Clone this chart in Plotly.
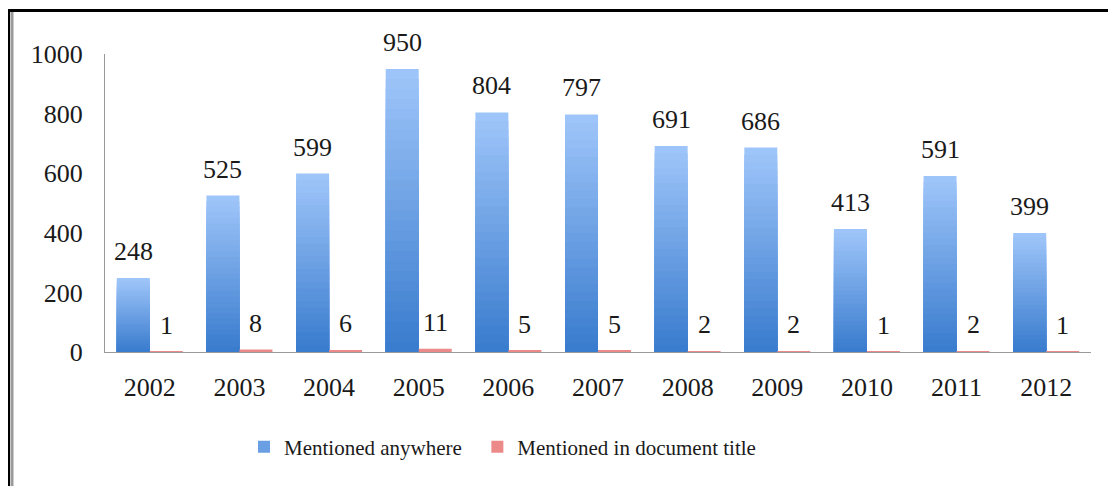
import plotly.graph_objects as go

years = ["2002", "2003", "2004", "2005", "2006", "2007", "2008", "2009", "2010", "2011", "2012"]
anywhere = [248, 525, 599, 950, 804, 797, 691, 686, 413, 591, 399]
in_title = [1, 8, 6, 11, 5, 5, 2, 2, 1, 2, 1]
y_ticks = [0, 200, 400, 600, 800, 1000]

FONT = "Liberation Serif"
FS = 26
LFS = 21
BW = 0.368

OFF = 8  # page body margin
W, H = 1116 - OFF, 486 - OFF
ML, MR, MT = 105 - OFF, 25, 54 - OFF
PH = 298
MB = H - MT - PH
PW = W - ML - MR

light = (158, 197, 249)
dark = (58, 124, 206)
N = 28

fig = go.Figure()
for i in range(N):
    t = i / (N - 1)
    c = tuple(round(light[k] + (dark[k] - light[k]) * t) for k in range(3))
    frac = (N - i) / N
    fig.add_trace(go.Bar(
        x=years, y=[v * frac for v in anywhere],
        width=BW, offset=-BW,
        marker=dict(color="rgb(%d,%d,%d)" % c, line=dict(width=0)),
        name="Mentioned anywhere" + "&nbsp;" * 2, showlegend=(i == N // 2),
        hoverinfo="skip",
    ))

fig.add_trace(go.Bar(
    x=years, y=in_title, width=BW, offset=0,
    name="Mentioned in document title",
    marker=dict(color="rgb(236,138,138)", line=dict(width=0)),
))

ann = []
for idx, v in enumerate(anywhere):
    ann.append(dict(x=idx, y=v, xref="x", yref="y", text=str(v), showarrow=False,
                    xshift=-BW * PW / len(years) / 2, yanchor="bottom", yshift=10,
                    font=dict(family=FONT, size=FS, color="#1a1a1a")))
for idx, v in enumerate(in_title):
    ann.append(dict(x=idx, y=v, xref="x", yref="y", text=str(v), showarrow=False,
                    xshift=BW * PW / len(years) / 2, yanchor="bottom", yshift=10,
                    font=dict(family=FONT, size=FS, color="#1a1a1a")))

def px_x(p):
    return (p - OFF - ML) / PW

def px_y(p):
    return (OFF + MT + PH - p) / PH

shapes = [
    dict(type="line", xref="paper", yref="paper", x0=px_x(12), x1=px_x(12),
         y0=px_y(12), y1=px_y(H + 40), line=dict(color="#9a9a9a", width=3)),
    dict(type="rect", xref="paper", yref="paper", x0=px_x(8.5), x1=px_x(W + 60),
         y0=px_y(H + 60), y1=px_y(10.5), line=dict(color="#000000", width=3)),
]

fig.update_layout(
    width=W, height=H,
    margin=dict(l=ML, r=MR, t=MT, b=MB),
    barmode="overlay",
    plot_bgcolor="white", paper_bgcolor="white",
    font=dict(family=FONT, size=FS, color="#1a1a1a"),
    annotations=ann,
    shapes=shapes,
    legend=dict(orientation="h", x=px_x(244), xanchor="left", y=px_y(447), yanchor="middle",
                font=dict(family=FONT, size=LFS, color="#1a1a1a"),
                bgcolor="rgba(0,0,0,0)", traceorder="normal"),
    xaxis=dict(type="category", categoryorder="array", categoryarray=years,
               range=[-0.5, len(years) - 0.5],
               showgrid=False, showline=True, linecolor="#999999", linewidth=1,
               ticks="", ticklabelstandoff=12, tickfont=dict(family=FONT, size=FS),
               zeroline=False, fixedrange=True),
    yaxis=dict(range=[0, 1000], tickvals=y_ticks, ticktext=[str(v) for v in y_ticks],
               showgrid=False, showline=True, linecolor="#999999", linewidth=1,
               ticks="", ticklabelstandoff=16, tickfont=dict(family=FONT, size=FS),
               zeroline=False, fixedrange=True),
)

fig.write_html("out.html")
